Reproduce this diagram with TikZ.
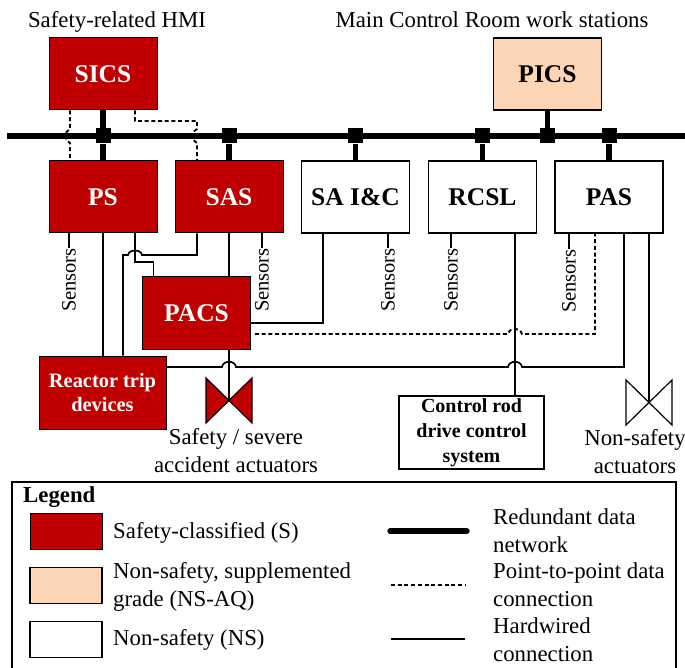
\documentclass[tikz,border=0pt]{standalone}
\usepackage{fontspec}
\setmainfont{Liberation Serif}
\definecolor{safered}{HTML}{C00000}
\definecolor{peach}{HTML}{FBD5B5}
\tikzset{
  x=1pt,y=-1pt,
  sysbox/.style={draw=black,line width=1.5pt,minimum width=108pt,minimum height=72pt,inner sep=0pt,align=center,font=\fontsize{25.5}{28}\selectfont\bfseries},
  safe/.style={sysbox,line width=1pt,fill=safered,text=white},
  nsaq/.style={sysbox,fill=peach},
  ns/.style={sysbox,fill=white},
  junction/.style={fill=black,draw=none,minimum size=15pt,inner sep=0pt},
  busline/.style={line width=5.3pt},
  tap/.style={line width=5.2pt},
  hard/.style={line width=1.7pt},
  ptp/.style={line width=1.9pt,dash pattern=on 4pt off 2.7pt},
  sensor/.style={rotate=90,anchor=east,inner sep=0pt,font=\fontsize{20.5}{24}\selectfont},
  caption/.style={inner sep=0pt,align=center,font=\fontsize{22.8}{28}\selectfont},
  legtext/.style={inner sep=0pt,align=left,anchor=base west,font=\fontsize{22.8}{28}\selectfont},
  swatch/.style={draw=black,line width=1.4pt,minimum width=72pt,minimum height=36pt,inner sep=0pt},
  valve/.style={draw=black,line width=1.2pt,line join=miter},
}
\begin{document}
\begin{tikzpicture}
\useasboundingbox (0,0) rectangle (685,668);
% titles
\node[caption,anchor=base] (t1) at (117,28) {Safety-related HMI};
\node[caption,anchor=base] (t2) at (492,28) {Main Control Room work stations};
% bus
\coordinate (busL) at (7,136);
\coordinate (busR) at (685,136);
% boxes
\node[safe] (SICS) at (103,74) {SICS};
\node[nsaq] (PICS) at (547.5,74) {PICS};
\node[safe] (PS) at (103,197) {PS};
\node[safe] (SAS) at (229,197) {SAS};
\node[ns] (SAI) at (355.5,197) {SA I\&C};
\node[ns] (RCSL) at (482.5,197) {RCSL};
\node[ns] (PAS) at (609,197) {PAS};
\node[safe] (PACS) at (196.5,313) {PACS};
\node[safe,minimum width=127pt,minimum height=73pt,font=\fontsize{20.4}{24}\selectfont\bfseries] (RT) at (102.5,392.5) {Reactor trip\\devices};
\node[ns,minimum width=145pt,minimum height=73pt,font=\fontsize{20}{25}\selectfont\bfseries] (CRD) at (471.5,432.5) {Control rod\\drive control\\system};
% junctions
\node[junction] (j1) at (PS.north |- busL) {};
\node[junction] (j2) at (SAS.north |- busL) {};
\node[junction] (j3) at (SAI.north |- busL) {};
\node[junction] (j4) at (RCSL.north |- busL) {};
\node[junction] (j5) at (PICS.south |- busL) {};
\node[junction] (j6) at (PAS.north |- busL) {};
\draw[busline] (busL) -- (busR);
\draw[tap] (SICS.south) -- (j1);
\draw[tap] (j1) -- (PS.north);
\draw[tap] (j2) -- (SAS.north);
\draw[tap] (j3) -- (SAI.north);
\draw[tap] (j4) -- (RCSL.north);
\draw[tap] (PICS.south) -- (j5);
\draw[tap] (j6) -- (PAS.north);
% port coordinates
\coordinate (dA) at (70,136);
\coordinate (dB) at (135,121);
\coordinate (dC) at (197,136);
\coordinate (pBot) at (135,233);
\coordinate (sBot) at (197,233);
% dashed SICS links with hops over the bus
\draw[ptp] (SICS.south -| dA) -- (70,129) .. controls (64,131) and (64,141) .. (70,143) -- (PS.north -| dA);
\draw[ptp] (SICS.south -| dB) -- (dB) -- (197,121) -- (197,129) .. controls (191,131) and (191,141) .. (197,143) -- (SAS.north -| dC);
% sensors
\node[sensor] (s1) at (69,248) {Sensors};
\node[sensor] (s2) at (262,248) {Sensors};
\node[sensor] (s3) at (388,248) {Sensors};
\node[sensor] (s4) at (451,248) {Sensors};
\node[sensor] (s5) at (569,249) {Sensors};
\draw[hard] (PS.south -| s1) -- (s1.east);
\draw[hard] (SAS.south -| s2) -- (s2.east);
\draw[hard] (SAI.south -| s3) -- (s3.east);
\draw[hard] (RCSL.south -| s4) -- (s4.east);
\draw[hard] (PAS.south -| s5) -- (s5.east);
% hardwired
\draw[hard] (PS.south) -- (RT.north -| PS.south);
\draw[hard] (pBot) -- (135,262) -- (153.5,262) -- (PACS.north -| 153.5,0);
\draw[hard] (SAS.south -| sBot) -- (197,255) -- (142,255) .. controls (141,249) and (129,249) .. (128,255) -- (123,255) -- (RT.north -| 123,0);
\draw[hard] (SAS.south) -- (PACS.north -| SAS.south);
\draw[hard] (PACS.east |- 0,323) -- (323,323) -- (SAI.south -| 323,0);
\draw[ptp] (PACS.east |- 0,334) ++(4,0) -- (508,334) .. controls (510,327) and (520,327) .. (522,334) -- (595,334) -- (PAS.south -| 595,0);
\coordinate (v1) at (229,400);
\coordinate (v2) at (649,402);
\draw[hard] (PAS.south -| 624,0) -- (624,367) -- (522,367) .. controls (521,360) and (509,360) .. (508,367) -- (236,367) .. controls (235,360) and (223,360) .. (222,367) -- (RT.east |- 0,367);
% valves
\draw[valve,fill=safered] (206,378) -- (252,423) -- (252,378) -- (206,423) -- cycle;
\draw[valve] (626,380) -- (672,425) -- (672,380) -- (626,425) -- cycle;
\draw[hard] (PACS.south -| v1) -- (v1);
\draw[hard] (PAS.south -| v2) -- (v2);
\draw[hard] (RCSL.south -| 515,0) -- (CRD.north -| 515,0);
% captions
\node[caption] (c1) at (236,451) {Safety / severe\\accident actuators};
\node[caption] (c2) at (635,452) {Non-safety\\actuators};
% legend
\draw[line width=1.4pt] (12,668) -- (12,482) -- (676,482) -- (676,668);
\node[legtext,font=\fontsize{22.8}{24}\selectfont\bfseries] (lt) at (23,502) {Legend};
\node[swatch,fill=safered,line width=1pt] (l1) at (66,531) {};
\node[swatch,fill=peach] (l2) at (66,585.5) {};
\node[swatch,fill=white] (l3) at (66,639.5) {};
\node[legtext] (lt1) at (113,538) {Safety-classified (S)};
\node[legtext] (lt2a) at (113,578) {Non-safety, supplemented};
\node[legtext] (lt2b) at (113,606) {grade (NS-AQ)};
\node[legtext] (lt3) at (113,645) {Non-safety (NS)};
\coordinate (a1) at (390,531); \coordinate (b1) at (467,531);
\coordinate (a2) at (391,585); \coordinate (b2) at (465,585);
\coordinate (a3) at (391,639); \coordinate (b3) at (465,639);
\draw[busline,line cap=round] (a1) -- (b1);
\draw[ptp] (a2) -- (b2);
\draw[hard] (a3) -- (b3);
\node[legtext] (r1a) at (493,524) {Redundant data};
\node[legtext] (r1b) at (493,552) {network};
\node[legtext] (r2a) at (493,578) {Point-to-point data};
\node[legtext] (r2b) at (493,606) {connection};
\node[legtext] (r3a) at (493,633) {Hardwired};
\node[legtext] (r3b) at (493,661) {connection};
\end{tikzpicture}
\end{document}
